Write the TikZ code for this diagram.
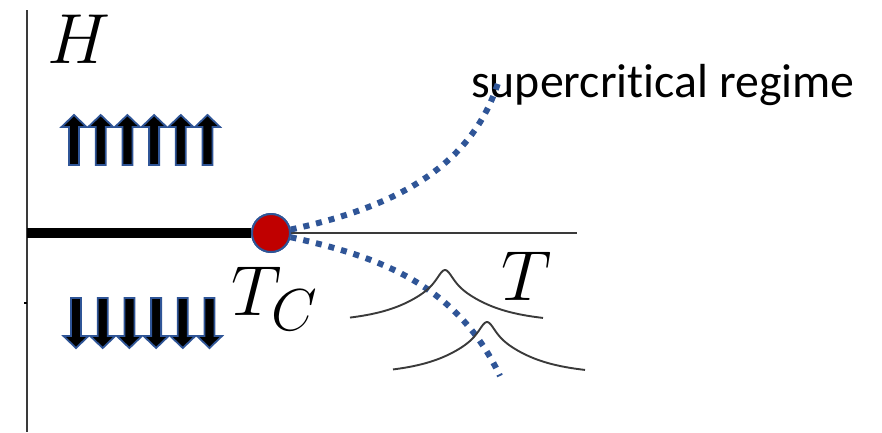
\documentclass[tikz,border=0pt]{standalone}
\usepackage{fontspec}
\newfontfamily\calib[Ligatures=NoCommon]{Carlito}
\definecolor{pblue}{HTML}{2F5597}
\definecolor{pred}{HTML}{C00000}
\definecolor{axisgray}{HTML}{3A3A3A}
\begin{document}
\begin{tikzpicture}[x=1pt,y=-1pt,
  axis/.style={draw=axisgray,line width=1.6pt},
  spinarrow/.style={draw=pblue,fill=black,line width=1.8pt,line join=miter},
  dotline/.style={draw=pblue,line width=6pt,dash pattern=on 6pt off 7pt,line cap=butt},
  peak/.style={draw=axisgray,line width=1.9pt,smooth},
  mathlab/.style={inner sep=0pt,anchor=base},
  spinup/.pic={\path[spinarrow] (-5,0) -- (-5,-38) -- (-12.5,-38) -- (0,-50) -- (12.5,-38) -- (5,-38) -- (5,0) -- cycle;},
  spindown/.pic={\path[spinarrow] (-5,0) -- (-5,38) -- (-12.5,38) -- (0,50) -- (12.5,38) -- (5,38) -- (5,0) -- cycle;}
]
\newcommand{\biglab}[1]{\scalebox{2.85}{\Huge $#1$}}
\useasboundingbox (0,0) rectangle (882,432);
% axes
\coordinate (vtop) at (27,10);
\coordinate (vbot) at (27,432);
\coordinate (origin) at (27,233);
\coordinate (hend) at (577,233);
\coordinate (tick) at (24,303);
\coordinate (ticko) at (27,303);
\draw[axis] (vtop) -- (vbot);
\draw[axis] (origin) -- (hend);
\draw[line width=1.2pt] (tick) -- (ticko);
% critical point
\node[circle,fill=pred,draw=pblue,line width=2pt,minimum size=38pt,inner sep=0pt] (tc) at (271,233) {};
\draw[line width=10pt,line cap=butt] (origin) -- (tc.west);
\node[circle,fill=pred,draw=pblue,line width=2pt,minimum size=38pt,inner sep=0pt] at (tc) {};
% labels
\node[mathlab] (H) at (79,63) {\biglab{H}};
\node[mathlab] (TC) at (275,315) {\biglab{T_C}};
\node[mathlab] (T) at (527,300) {\biglab{T}};
\node[font=\calib\fontsize{47.8}{56}\selectfont,anchor=base west,inner sep=0pt] (sup) at (471,97) {supercritical regime};
% spins
\foreach \i in {0,...,5} {
  \pic at ({74+26.7*\i},165) {spinup};
  \pic at ({76+26.7*\i},298) {spindown};
}
% dotted lines
\coordinate (upend) at (498,83);
\coordinate (lowend) at (500,376);
\draw[dotline] (tc.10) .. controls (390,208) and (470,170) .. (upend);
\draw[dotline] (tc.-12) .. controls (370,255) and (455,280) .. (lowend);
% peaks
\draw[peak] plot[domain=350:543,samples=150] (\x,{325-33/(1+((\x-445)/50)^2)-22/(1+((\x-445)/11)^2)});
\draw[peak] plot[domain=393:585,samples=150] (\x,{377-33/(1+((\x-487)/50)^2)-22/(1+((\x-487)/11)^2)});
\end{tikzpicture}
\end{document}
